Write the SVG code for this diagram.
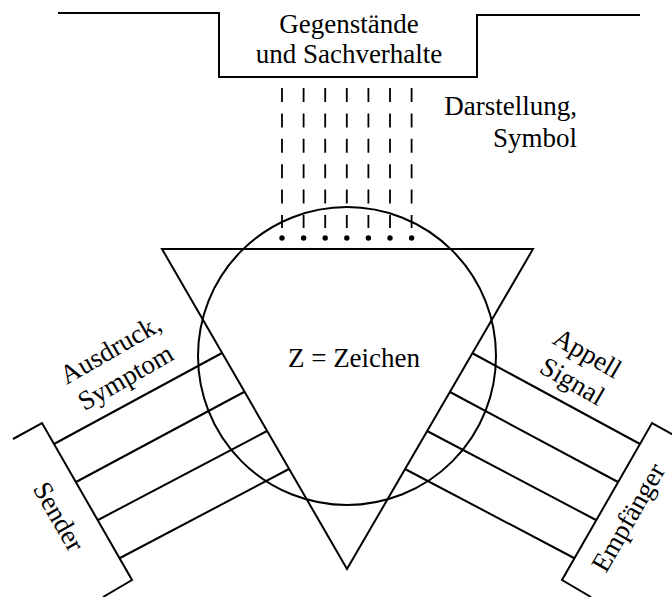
<svg xmlns="http://www.w3.org/2000/svg" width="672" height="597" viewBox="0 0 672 597">
<style>
.ln{fill:none;stroke:#000;stroke-width:2;stroke-linecap:butt;stroke-linejoin:miter}
.ds{fill:none;stroke:#000;stroke-width:1.8;stroke-dasharray:14 11.4}
.t{font-family:"Liberation Serif","Times New Roman",serif;font-size:27px;fill:#000;text-anchor:middle}
.dot{fill:#000}
</style>
<rect width="672" height="597" fill="#fff"/>
<g id="gegenstaende">
<path class="ln" d="M58,13 H219 V77 H477 V15 H640"/>
<text class="t" x="349" y="33">Gegenstände</text>
<text class="t" x="349" y="63">und Sachverhalte</text>
</g>
<g id="zeichen">
<circle class="ln" cx="347" cy="356" r="149"/>
<path class="ln" d="M162,249 H533 L347,569 Z"/>
<text class="t" x="354" y="367">Z = Zeichen</text>
</g>
<g id="sender">
<path class="ln" d="M13,439 L42,423 L132,580 L103,597"/>
<text class="t" transform="translate(51,521) rotate(60)">Sender</text>
</g>
<g id="empfaenger">
<path class="ln" d="M681,439 L652,423 L562,580 L591,597"/>
<text class="t" transform="translate(636,522) rotate(-60)">Empfänger</text>
</g>
<g id="connectors">
<g id="darstellung-lines">
<line class="ds" x1="282" y1="88" x2="282" y2="228"/>
<line class="ds" x1="303.6" y1="88" x2="303.6" y2="228"/>
<line class="ds" x1="325.2" y1="88" x2="325.2" y2="228"/>
<line class="ds" x1="346.8" y1="88" x2="346.8" y2="228"/>
<line class="ds" x1="368.4" y1="88" x2="368.4" y2="228"/>
<line class="ds" x1="390" y1="88" x2="390" y2="228"/>
<line class="ds" x1="411.6" y1="88" x2="411.6" y2="228"/>
<circle class="dot" cx="282" cy="238" r="2.7"/>
<circle class="dot" cx="303.6" cy="238" r="2.7"/>
<circle class="dot" cx="325.2" cy="238" r="2.7"/>
<circle class="dot" cx="346.8" cy="238" r="2.7"/>
<circle class="dot" cx="368.4" cy="238" r="2.7"/>
<circle class="dot" cx="390" cy="238" r="2.7"/>
<circle class="dot" cx="411.6" cy="238" r="2.7"/>
</g>
<g id="ausdruck-lines">
<line class="ln" x1="54" y1="444" x2="222" y2="353"/>
<line class="ln" x1="76" y1="482" x2="244" y2="392"/>
<line class="ln" x1="98" y1="520" x2="267" y2="431"/>
<line class="ln" x1="120" y1="558" x2="289" y2="469"/>
</g>
<g id="appell-lines">
<line class="ln" x1="640" y1="444" x2="472" y2="353"/>
<line class="ln" x1="618" y1="482" x2="450" y2="392"/>
<line class="ln" x1="596" y1="520" x2="427" y2="431"/>
<line class="ln" x1="574" y1="558" x2="405" y2="469"/>
</g>
</g>
<g id="labels">
<text class="t" style="text-anchor:end" x="577" y="115">Darstellung,</text>
<text class="t" style="text-anchor:end" x="577" y="147">Symbol</text>
<text class="t" transform="translate(115,357) rotate(-30)">Ausdruck,</text>
<text class="t" transform="translate(130,385) rotate(-30)">Symptom</text>
<text class="t" transform="translate(583,361) rotate(30)">Appell</text>
<text class="t" transform="translate(568,389) rotate(30)">Signal</text>
</g>
</svg>
